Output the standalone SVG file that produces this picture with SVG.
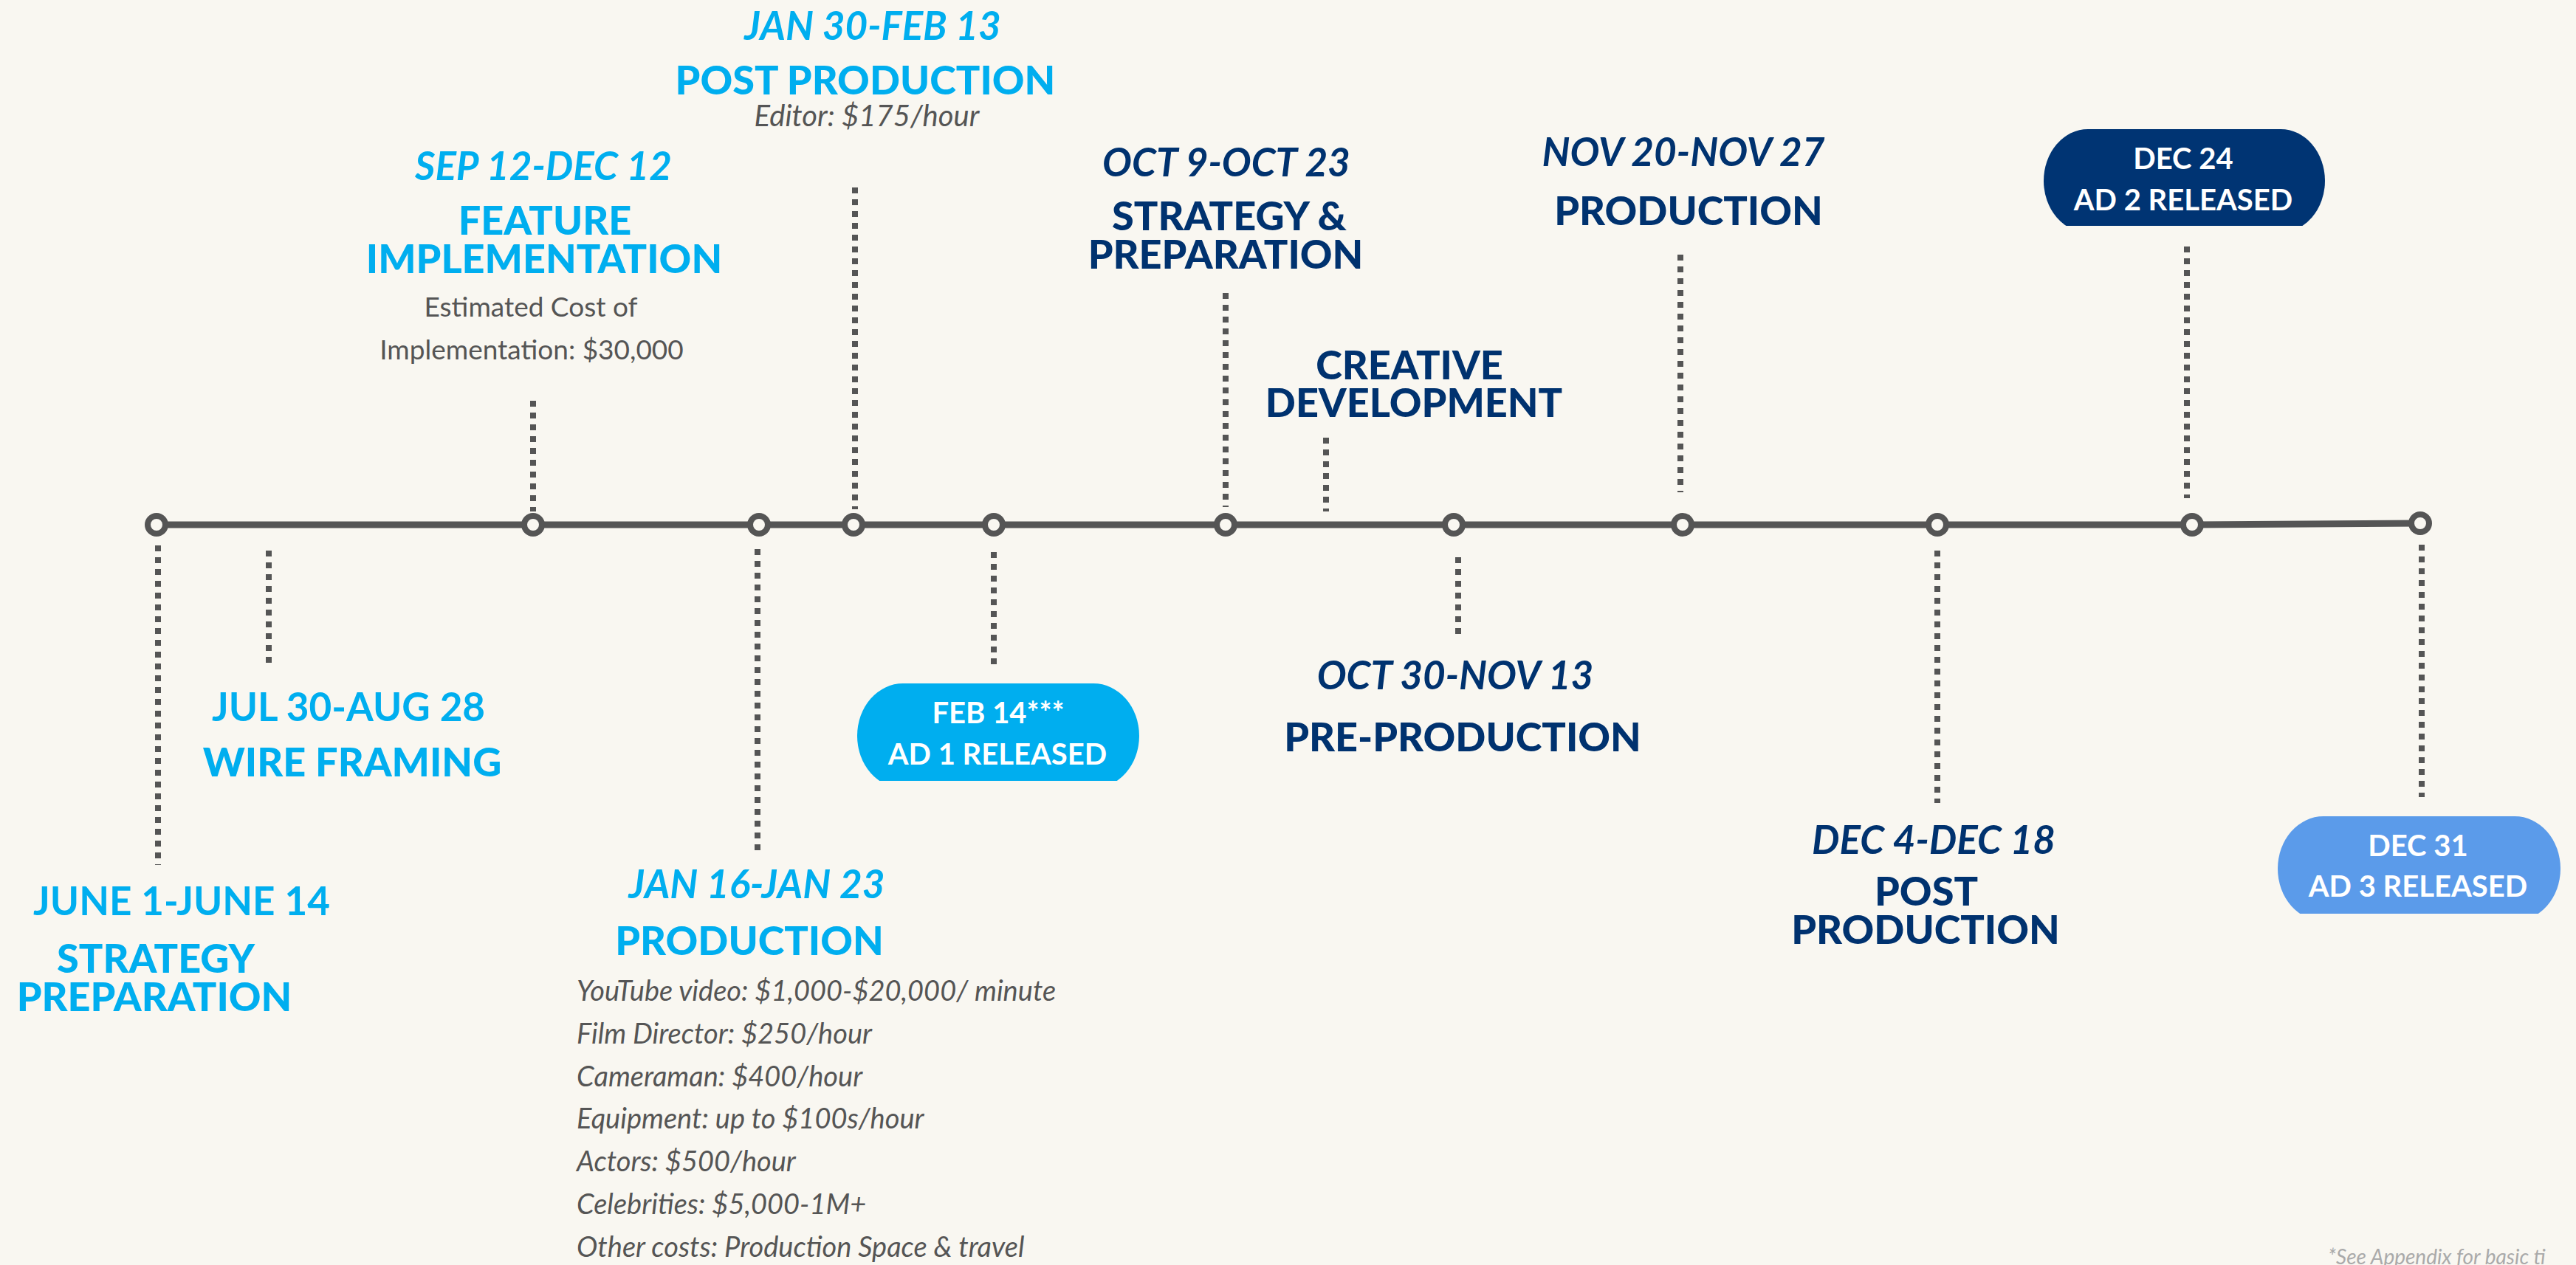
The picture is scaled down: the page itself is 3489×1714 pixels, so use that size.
<svg xmlns="http://www.w3.org/2000/svg" width="3489" height="1714" viewBox="0 0 3489 1714">
  <style>
    .bg { fill: #f9f7f1; }
    .axis { stroke: #555555; stroke-width: 9; fill: none; }
    .dot { fill: #f9f7f1; stroke: #555555; stroke-width: 8; }
    .tick { stroke: #555555; stroke-width: 8; stroke-dasharray: 8 8; fill: none; }
    text { font-family: Lato, "Liberation Sans", sans-serif; text-anchor: middle; }
    .date { font-size: 53px; font-weight: 700; font-style: italic; }
    .date-up { font-size: 53px; font-weight: 700; }
    .head { font-size: 54px; font-weight: 900; }
    .cyan { fill: #00aeef; }
    .navy { fill: #00326f; }
    .note { font-size: 37px; fill: #555555; }
    .note-i { font-size: 40px; fill: #555555; font-style: italic; }
    .list { font-size: 38px; fill: #555555; font-style: italic; text-anchor: start; }
    .pill-t { font-size: 40px; font-weight: 700; fill: #ffffff; }
    .foot { font-size: 28px; fill: #aaaaaa; font-style: italic; text-anchor: start; }
  </style>
  <defs>
    <clipPath id="clip-feb14"><rect x="1150" y="920" width="400" height="138"/></clipPath>
    <clipPath id="clip-dec24"><rect x="2760" y="170" width="400" height="136"/></clipPath>
    <clipPath id="clip-dec31"><rect x="3080" y="1100" width="400" height="138"/></clipPath>
  </defs>

  <rect class="bg" x="0" y="0" width="3489" height="1714"/>

  <!-- timeline axis and dotted leaders -->
  <g id="connectors">
    <line class="axis" x1="212" y1="711" x2="2969" y2="711"/>
    <line class="axis" x1="2969" y1="711" x2="3278" y2="709"/>
    <line class="tick" x1="214" y1="739" x2="214" y2="1172"/>
    <line class="tick" x1="364" y1="746" x2="364" y2="898"/>
    <line class="tick" x1="722" y1="543" x2="722" y2="693"/>
    <line class="tick" x1="1026" y1="744" x2="1026" y2="1152"/>
    <line class="tick" x1="1158" y1="254" x2="1158" y2="690"/>
    <line class="tick" x1="1346" y1="748" x2="1346" y2="900"/>
    <line class="tick" x1="1660" y1="397" x2="1660" y2="687"/>
    <line class="tick" x1="1796" y1="593" x2="1796" y2="693"/>
    <line class="tick" x1="1975" y1="755" x2="1975" y2="860"/>
    <line class="tick" x1="2276" y1="345" x2="2276" y2="667"/>
    <line class="tick" x1="2624" y1="746" x2="2624" y2="1088"/>
    <line class="tick" x1="2962" y1="334" x2="2962" y2="675"/>
    <line class="tick" x1="3280" y1="738" x2="3280" y2="1080"/>
  </g>

  <!-- timeline stops -->
  <g id="stops">
    <circle class="dot" cx="212" cy="711" r="12"/>
    <circle class="dot" cx="722" cy="711" r="12"/>
    <circle class="dot" cx="1028" cy="711" r="12"/>
    <circle class="dot" cx="1156" cy="711" r="12"/>
    <circle class="dot" cx="1346" cy="711" r="12"/>
    <circle class="dot" cx="1660" cy="711" r="12"/>
    <circle class="dot" cx="1969" cy="711" r="12"/>
    <circle class="dot" cx="2279" cy="711" r="12"/>
    <circle class="dot" cx="2624" cy="711" r="12"/>
    <circle class="dot" cx="2969" cy="711" r="12"/>
    <circle class="dot" cx="3278" cy="709" r="12"/>
  </g>

  <g id="strategy-preparation">
    <text class="date-up cyan" x="246" y="1240">JUNE 1-JUNE 14</text>
    <text class="head cyan" x="211" y="1318">STRATEGY</text>
    <text class="head cyan" x="209" y="1370">PREPARATION</text>
  </g>

  <g id="wire-framing">
    <text class="date-up cyan" x="472" y="977">JUL 30-AUG 28</text>
    <text class="head cyan" x="477" y="1052">WIRE FRAMING</text>
  </g>

  <g id="feature-implementation">
    <text class="date cyan" x="736" y="244">SEP 12-DEC 12</text>
    <text class="head cyan" x="738" y="318">FEATURE</text>
    <text class="head cyan" x="737" y="370">IMPLEMENTATION</text>
    <text class="note" x="719" y="429">Estimated Cost of</text>
    <text class="note" x="720" y="487">Implementation: $30,000</text>
  </g>

  <g id="production-jan">
    <text class="date cyan" x="1025" y="1217">JAN 16-JAN 23</text>
    <text class="head cyan" x="1015" y="1294">PRODUCTION</text>
    <text class="list" x="781" y="1356">YouTube video: $1,000-$20,000/ minute</text>
    <text class="list" x="781" y="1414">Film Director: $250/hour</text>
    <text class="list" x="781" y="1472">Cameraman: $400/hour</text>
    <text class="list" x="781" y="1529">Equipment: up to $100s/hour</text>
    <text class="list" x="781" y="1587">Actors: $500/hour</text>
    <text class="list" x="781" y="1645">Celebrities: $5,000-1M+</text>
    <text class="list" x="781" y="1703">Other costs: Production Space &amp; travel</text>
  </g>

  <g id="post-production-jan">
    <text class="date cyan" x="1182" y="54">JAN 30-FEB 13</text>
    <text class="head cyan" x="1172" y="128">POST PRODUCTION</text>
    <text class="note-i" x="1174" y="171">Editor: $175/hour</text>
  </g>

  <g id="ad1-release">
    <rect x="1161" y="926" width="382" height="142" rx="62" ry="71" fill="#00aeef" clip-path="url(#clip-feb14)"/>
    <text class="pill-t" x="1352" y="980">FEB 14***</text>
    <text class="pill-t" x="1351" y="1036">AD 1 RELEASED</text>
  </g>

  <g id="strategy-oct">
    <text class="date navy" x="1661" y="239">OCT 9-OCT 23</text>
    <text class="head navy" x="1665" y="312">STRATEGY &amp;</text>
    <text class="head navy" x="1660" y="364">PREPARATION</text>
  </g>

  <g id="creative-development">
    <text class="head navy" x="1909" y="514">CREATIVE</text>
    <text class="head navy" x="1915" y="565">DEVELOPMENT</text>
  </g>

  <g id="pre-production">
    <text class="date navy" x="1971" y="934">OCT 30-NOV 13</text>
    <text class="head navy" x="1981" y="1018">PRE-PRODUCTION</text>
  </g>

  <g id="production-nov">
    <text class="date navy" x="2280" y="225">NOV 20-NOV 27</text>
    <text class="head navy" x="2287" y="305">PRODUCTION</text>
  </g>

  <g id="post-production-dec">
    <text class="date navy" x="2619" y="1157">DEC 4-DEC 18</text>
    <text class="head navy" x="2609" y="1227">POST</text>
    <text class="head navy" x="2608" y="1279">PRODUCTION</text>
  </g>

  <g id="ad2-release">
    <rect x="2768" y="175" width="381" height="140" rx="60" ry="70" fill="#003473" clip-path="url(#clip-dec24)"/>
    <text class="pill-t" x="2957" y="229">DEC 24</text>
    <text class="pill-t" x="2957" y="285">AD 2 RELEASED</text>
  </g>

  <g id="ad3-release">
    <rect x="3085" y="1106" width="383" height="142" rx="62" ry="71" fill="#5b9bea" clip-path="url(#clip-dec31)"/>
    <text class="pill-t" x="3275" y="1160">DEC 31</text>
    <text class="pill-t" x="3275" y="1215">AD 3 RELEASED</text>
  </g>

  <text class="foot" x="3153" y="1713">*See Appendix for basic ti</text>
</svg>
